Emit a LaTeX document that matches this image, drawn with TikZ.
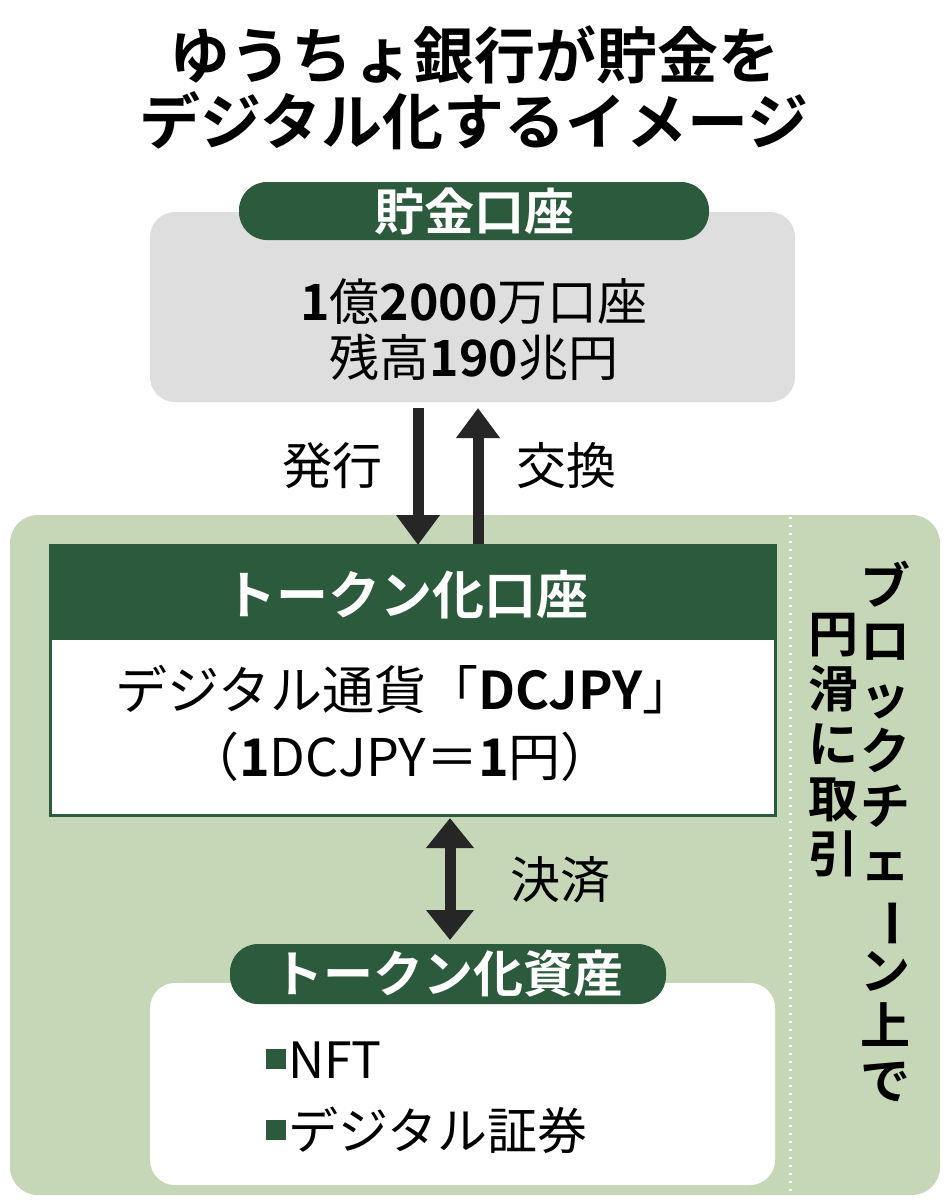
\documentclass[tikz,border=0pt]{standalone}
\usepackage{fontspec}
\setmainfont{Noto Sans CJK JP}[BoldFont={Noto Sans CJK JP Bold}]
\definecolor{dg}{HTML}{2C5A3C}
\definecolor{lg}{HTML}{C6D7B8}
\definecolor{gr}{HTML}{DEDEDE}
\usetikzlibrary{arrows.meta}
\tikzset{x=1pt,y=-1pt,
 pill/.style={fill=dg,rounded corners=28pt,text=white,font=\bfseries\fontsize{50}{56}\selectfont,inner sep=0pt},
 body/.style={font=\fontsize{50}{56}\selectfont},
 arr/.style={line width=11pt,-{Triangle[length=30pt,width=42pt]},black!85}}
\newcommand{\sq}{\textcolor{dg}{\rule[0.18em]{0.4em}{0.4em}}\hspace{0.05em}}
\begin{document}
\begin{tikzpicture}
\useasboundingbox (0,0) rectangle (948,1200);
\fill[white] (0,0) rectangle (948,1200);
\node[font=\bfseries\fontsize{61}{66}\selectfont,align=center] (title) at (474,88) {ゆうちょ銀行が貯金を\\デジタル化するイメージ};
% top box
\fill[gr,rounded corners=25pt] (150,212) rectangle (795,402);
\node[pill,minimum width=470pt,minimum height=58pt] (p1) at (474,211) {貯金口座};
\node[body,align=center] (t1) at (474,330) {\textbf{1}億\textbf{2000}万口座\\残高\textbf{190}兆円};
% green area
\fill[lg,rounded corners=28pt] (10,515) rectangle (940,1195);
\draw[white,line width=3pt,dash pattern=on 2pt off 6pt] (790,517) -- (790,1193);
% arrows
\coordinate (a1) at (418,408); \coordinate (a2) at (418,545);
\coordinate (b1) at (478,545); \coordinate (b2) at (478,408);
\draw[arr] (a1) -- (a2);
\draw[arr] (b1) -- (b2);
\node[body] (l1) at (332,466) {発行};
\node[body] (l2) at (566,466) {交換};
% token account
\draw[dg,fill=white,line width=3pt] (50,545) rectangle (775,815);
\fill[dg] (50,545) rectangle (775,640);
\node[font=\bfseries\fontsize{52}{58}\selectfont,text=white] (h2) at (406,595) {トークン化口座};
\node[body,font=\fontsize{52}{58}\selectfont] (t2a) at (405,690) {デジタル通貨「\textbf{DCJPY}」};
\node[body,font=\fontsize{52}{58}\selectfont] (t2b) at (400,757) {（\textbf{1}DCJPY＝\textbf{1}円）};
% double arrow
\coordinate (c1) at (450,818); \coordinate (c2) at (450,940);
\draw[line width=11pt,{Triangle[length=30pt,width=46pt]}-{Triangle[length=30pt,width=46pt]},black!85] (c1) -- (c2);
\node[body] (l3) at (560,880) {決済};
% assets
\fill[white,rounded corners=25pt] (150,983) rectangle (775,1185);
\node[pill,minimum width=436pt,minimum height=60pt] (p3) at (448,974) {トークン化資産};
\node[body,anchor=west] (i1) at (262,1060) {\sq NFT};
\node[body,anchor=west] (i2) at (262,1130) {\sq デジタル証券};
% vertical text
\node[font=\bfseries\fontsize{50}{55}\selectfont,align=center,anchor=north] (v1) at (885,558)
 {ブ\\ロ\\ッ\\ク\\チ\\ェ\\\rotatebox[origin=c]{-90}{ー}\\ン\\上\\で};
\node[font=\bfseries\fontsize{50}{55}\selectfont,align=center,anchor=north] (v2) at (833,610)
 {円\\滑\\に\\取\\引};
\end{tikzpicture}
\end{document}
